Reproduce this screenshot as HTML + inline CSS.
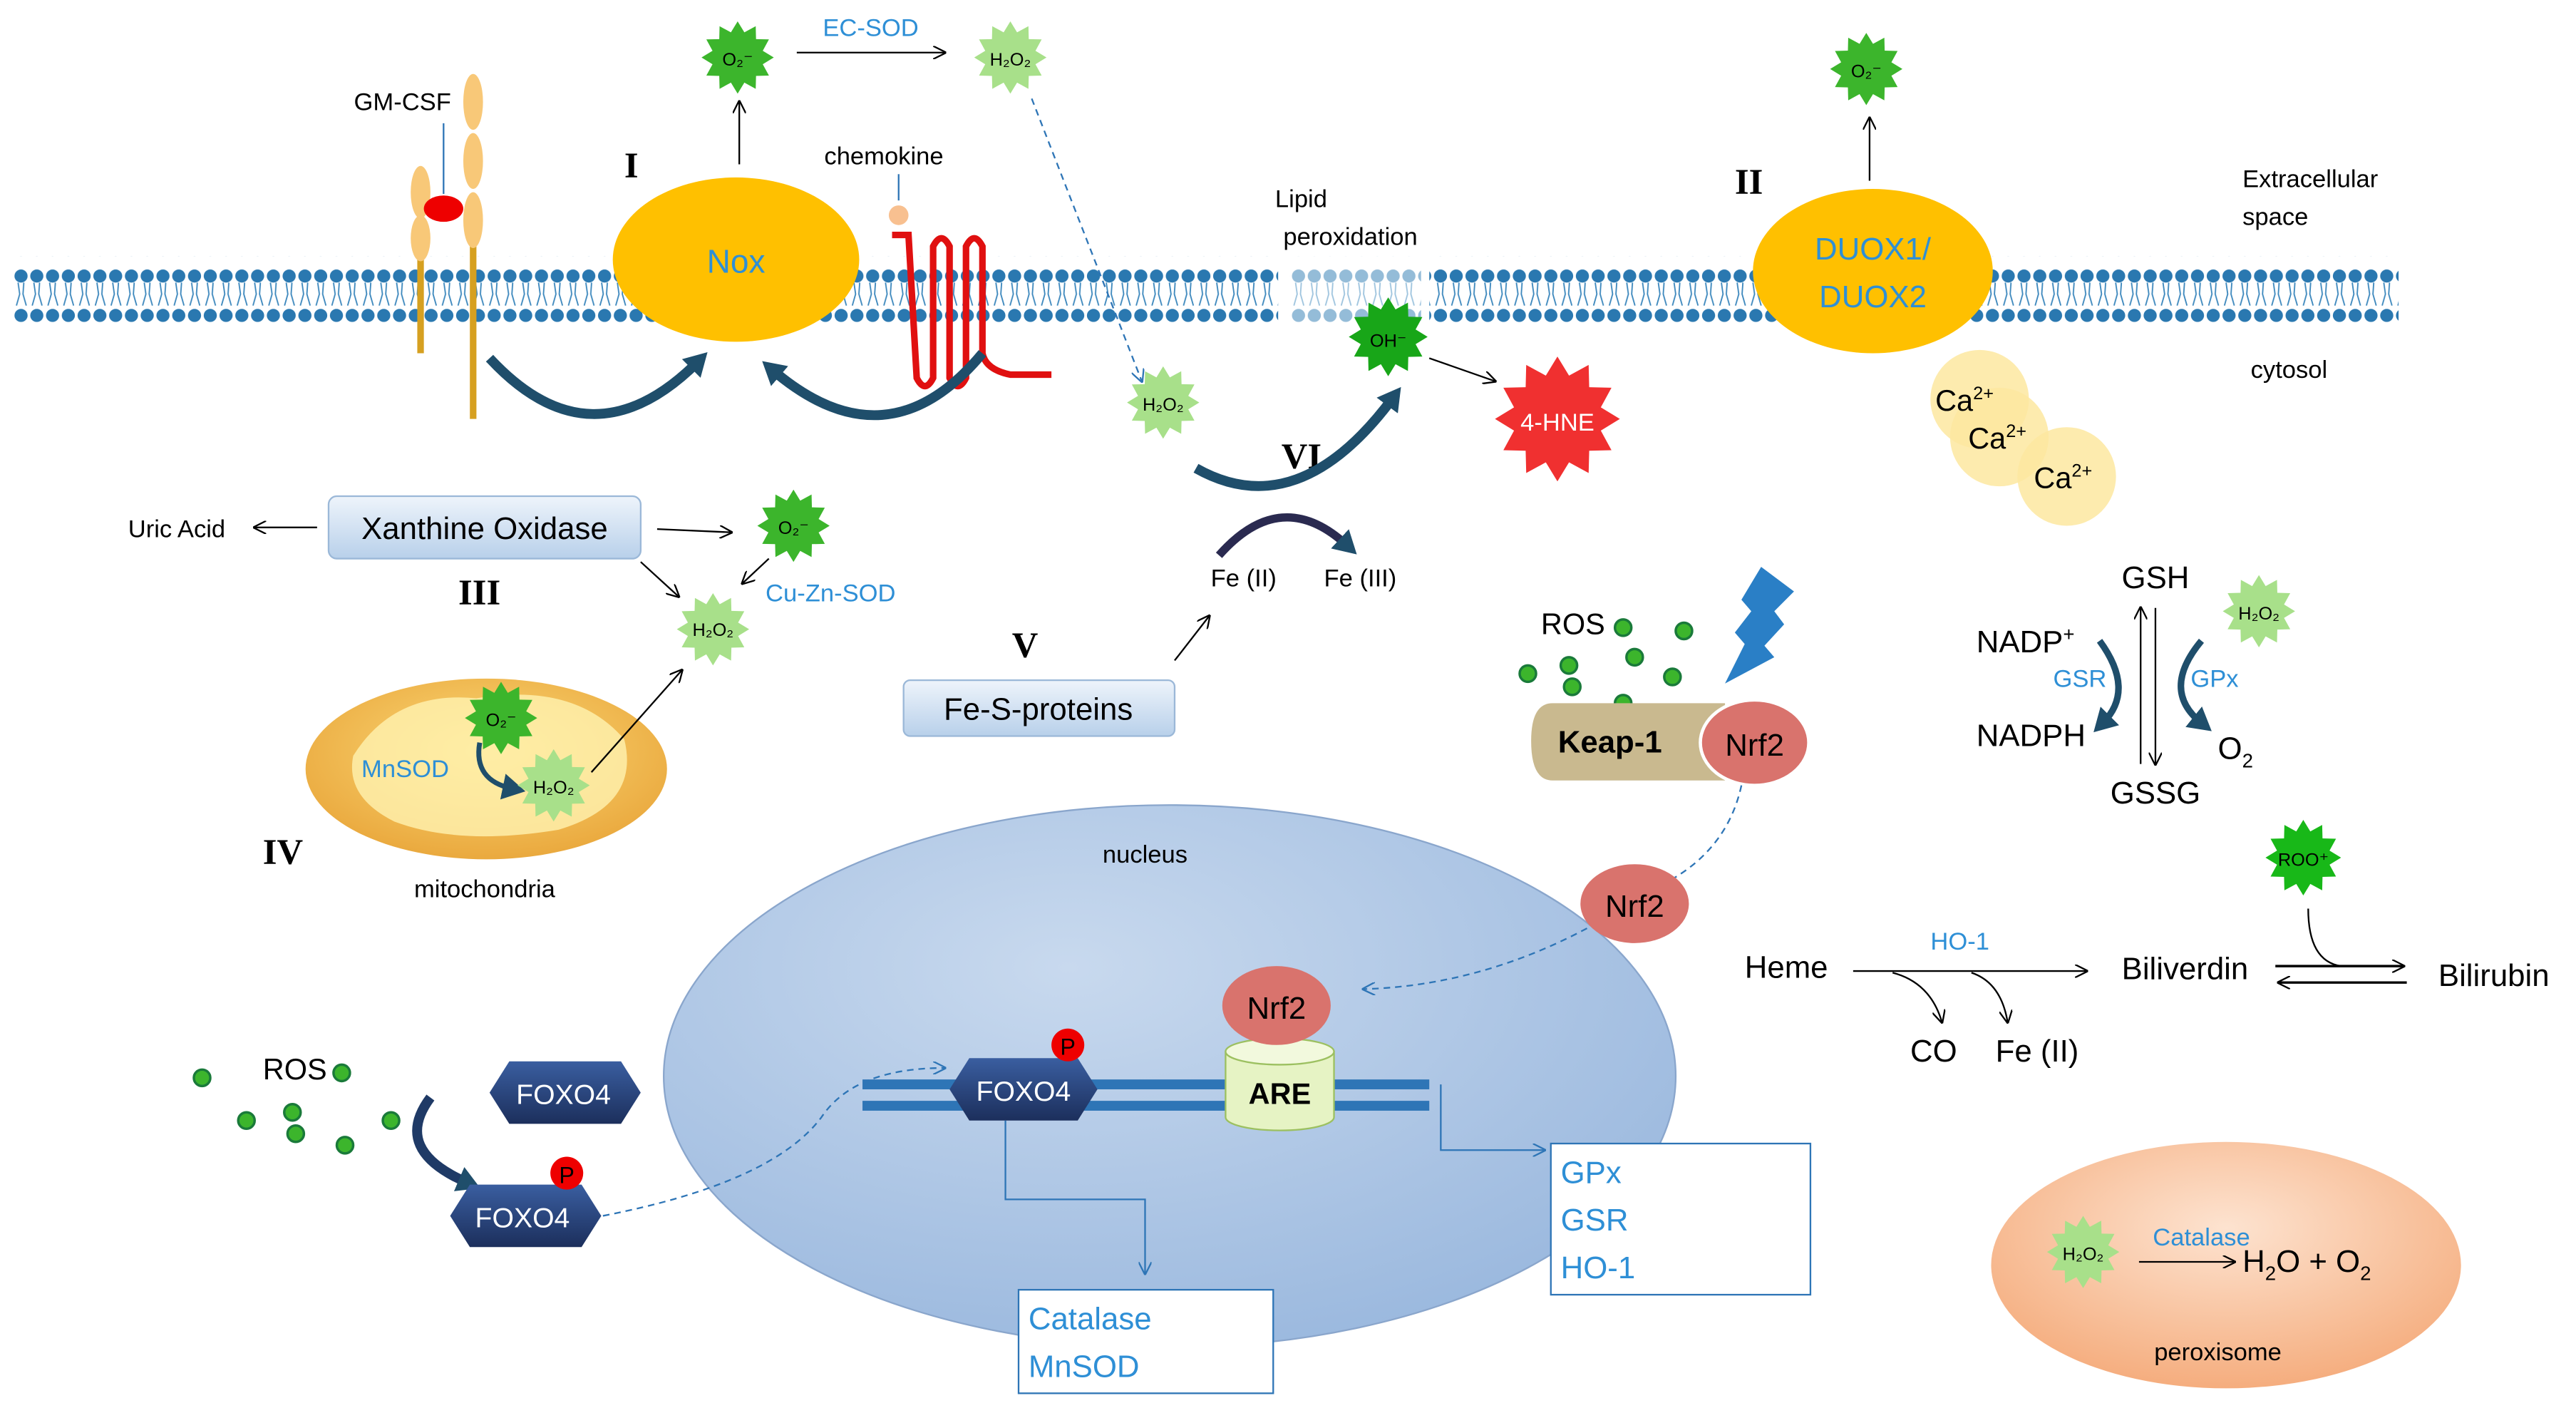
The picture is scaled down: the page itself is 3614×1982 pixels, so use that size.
<!DOCTYPE html>
<html><head><meta charset="utf-8"><style>
html,body{margin:0;padding:0;background:#fff;}
svg{display:block;}
text{font-family:"Liberation Sans",sans-serif;}
.s{font-family:"Liberation Serif",serif;font-weight:bold;font-size:22px;}
.b{fill:#2e8fd6;}
</style></head><body>
<svg width="3614" height="1982" viewBox="0 0 1568 860" preserveAspectRatio="none" xmlns="http://www.w3.org/2000/svg">
<defs>
<symbol id="st" viewBox="-1 -1 2 2"><polygon points="1,0 .695,.186 .866,.5 .509,.509 .5,.866 .186,.695 0,1 -.186,.695 -.5,.866 -.509,.509 -.866,.5 -.695,.186 -1,0 -.695,-.186 -.866,-.5 -.509,-.509 -.5,-.866 -.186,-.695 0,-1 .186,-.695 .5,-.866 .509,-.509 .866,-.5 .695,-.186"/></symbol>
<pattern id="mem" x="8" y="0" width="9.6" height="40" patternUnits="userSpaceOnUse">
<circle cx="4.8" cy="8" r="4" fill="#2a78b0"/><circle cx="4.8" cy="32" r="4" fill="#2a78b0"/>
<path d="M3 12 L4 19 L2 26 M6.5 12 L6 19 L8 26" stroke="#3d88bd" stroke-width="0.8" fill="none"/>
</pattern>
<marker id="a" markerWidth="8" markerHeight="8" refX="7" refY="4" orient="auto" markerUnits="userSpaceOnUse"><path d="M0,0 L8,4 L0,8" fill="none" stroke="#000" stroke-width="1"/></marker>
<marker id="ab" markerWidth="8" markerHeight="8" refX="7" refY="4" orient="auto" markerUnits="userSpaceOnUse"><path d="M0,0 L8,4 L0,8" fill="none" stroke="#2e75b6" stroke-width="1"/></marker>
<marker id="at" markerWidth="16" markerHeight="16" refX="6" refY="8" orient="auto" markerUnits="userSpaceOnUse"><path d="M0,0 L14,8 L0,16 z" fill="#1f4e6b"/></marker>
<radialGradient id="nuc" cx="40%" cy="30%" r="75%"><stop offset="0" stop-color="#c8d9ee"/><stop offset="1" stop-color="#9ab8de"/></radialGradient>
<radialGradient id="mito" cx="50%" cy="40%" r="60%"><stop offset="0" stop-color="#fbd877"/><stop offset="1" stop-color="#eaa93e"/></radialGradient>
<radialGradient id="per" cx="50%" cy="35%" r="65%"><stop offset="0" stop-color="#fde3d0"/><stop offset="1" stop-color="#f5ad7e"/></radialGradient>
<linearGradient id="box" x1="0" y1="0" x2="0" y2="1"><stop offset="0" stop-color="#eef4fb"/><stop offset="1" stop-color="#b8d0ea"/></linearGradient>
<linearGradient id="hex" x1="0" y1="0" x2="0" y2="1"><stop offset="0" stop-color="#3a5ea0"/><stop offset="1" stop-color="#1c2f5c"/></linearGradient>
</defs>

<!-- membrane -->
<rect x="8" y="156" width="770" height="40" fill="url(#mem)"/>
<rect x="870" y="156" width="590" height="40" fill="url(#mem)"/>
<rect x="785" y="156" width="80" height="40" fill="url(#mem)" opacity="0.5"/>

<!-- nucleus -->
<ellipse cx="712" cy="655" rx="308" ry="165" fill="url(#nuc)" stroke="#8aa6cc"/>
<text x="697" y="525" font-size="15" text-anchor="middle">nucleus</text>

<!-- GM-CSF receptor -->
<line x1="288" y1="140" x2="288" y2="255" stroke="#d6a020" stroke-width="4"/>
<line x1="256" y1="140" x2="256" y2="215" stroke="#d6a020" stroke-width="4"/>
<ellipse cx="288" cy="62" rx="6" ry="17" fill="#f8c878"/><ellipse cx="288" cy="98" rx="6" ry="17" fill="#f8c878"/><ellipse cx="288" cy="134" rx="6" ry="17" fill="#f8c878"/>
<ellipse cx="256" cy="117" rx="6" ry="16" fill="#f8c878"/><ellipse cx="256" cy="145" rx="6" ry="14" fill="#f8c878"/>
<line x1="270" y1="75" x2="270" y2="118" stroke="#2e75b6"/>
<ellipse cx="270" cy="127" rx="12" ry="8" fill="#e00"/>
<text x="245" y="67" font-size="15" text-anchor="middle">GM-CSF</text>
<text x="380" y="108" class="s">I</text>
<!-- Nox -->
<ellipse cx="448" cy="158" rx="75" ry="50" fill="#ffc000"/>
<text x="448" y="166" font-size="20" class="b" text-anchor="middle">Nox</text>
<line x1="450" y1="100" x2="450" y2="62" stroke="#000" marker-end="url(#a)"/>
<use href="#st" x="427" y="13" width="44" height="44" fill="#3cb52c"/>
<text x="449" y="40" font-size="11" text-anchor="middle">O₂⁻</text>
<line x1="485" y1="32" x2="575" y2="32" stroke="#000" marker-end="url(#a)"/>
<text x="530" y="22" font-size="15" class="b" text-anchor="middle">EC-SOD</text>
<use href="#st" x="593" y="13" width="44" height="44" fill="#a8e08a"/>
<text x="615" y="40" font-size="11" text-anchor="middle">H₂O₂</text>
<!-- chemokine -->
<text x="538" y="100" font-size="15" text-anchor="middle">chemokine</text>
<line x1="547" y1="106" x2="547" y2="122" stroke="#2e75b6"/>
<circle cx="547" cy="131" r="6" fill="#f8c090"/>
<path d="M543 143 L553 143 L558 230 Q563 240 568 230 L568 150 Q573 140 578 150 L578 230 Q583 240 588 230 L588 150 Q593 140 598 150 L598 215 Q600 225 615 228 L640 228" fill="none" stroke="#e01010" stroke-width="4"/>
<path d="M298 218 Q360 285 425 220" fill="none" stroke="#1f4e6b" stroke-width="6" marker-end="url(#at)"/>
<path d="M598 215 Q540 285 470 225" fill="none" stroke="#1f4e6b" stroke-width="6" marker-end="url(#at)"/>
<path d="M628 60 L695 232" stroke="#2e75b6" stroke-dasharray="4,3" fill="none" marker-end="url(#ab)"/>
<use href="#st" x="686" y="223" width="44" height="44" fill="#a8e08a"/>
<text x="708" y="250" font-size="11" text-anchor="middle">H₂O₂</text>
<!-- lipid peroxidation -->
<text x="792" y="126" font-size="15" text-anchor="middle">Lipid</text>
<text x="822" y="149" font-size="15" text-anchor="middle">peroxidation</text>
<use href="#st" x="821" y="181" width="48" height="48" fill="#18a618"/>
<text x="845" y="211" font-size="11" text-anchor="middle">OH⁻</text>
<line x1="870" y1="218" x2="910" y2="232" stroke="#000" marker-end="url(#a)"/>
<use href="#st" x="910" y="217" width="76" height="76" fill="#f03030"/>
<text x="948" y="262" font-size="15" fill="#fff" text-anchor="middle">4-HNE</text>
<text x="780" y="285" class="s">VI</text>
<path d="M728 285 Q790 320 848 242" fill="none" stroke="#1f4e6b" stroke-width="6" marker-end="url(#at)"/>
<path d="M742 338 Q780 295 820 332" fill="none" stroke="#2a2a50" stroke-width="5" marker-end="url(#at)"/>
<text x="757" y="357" font-size="15" text-anchor="middle">Fe (II)</text>
<text x="828" y="357" font-size="15" text-anchor="middle">Fe (III)</text>
<text x="616" y="400" class="s">V</text>
<line x1="715" y1="402" x2="736" y2="375" stroke="#000" marker-end="url(#a)"/>
<rect x="550" y="414" width="165" height="34" rx="4" fill="url(#box)" stroke="#9bb8d8"/>
<text x="632" y="438" font-size="19" text-anchor="middle">Fe-S-proteins</text>

<!-- DUOX -->
<text x="1056" y="118" class="s">II</text>
<line x1="1138" y1="110" x2="1138" y2="72" stroke="#000" marker-end="url(#a)"/>
<use href="#st" x="1114" y="20" width="44" height="44" fill="#3cb52c"/>
<text x="1136" y="47" font-size="11" text-anchor="middle">O₂⁻</text>
<ellipse cx="1140" cy="165" rx="73" ry="50" fill="#ffc000"/>
<text x="1140" y="158" font-size="19" class="b" text-anchor="middle">DUOX1/</text>
<text x="1140" y="187" font-size="19" class="b" text-anchor="middle">DUOX2</text>
<circle cx="1205" cy="243" r="30" fill="#fde7a0" opacity="0.85"/>
<circle cx="1217" cy="266" r="30" fill="#fde7a0" opacity="0.85"/>
<circle cx="1258" cy="290" r="30" fill="#fde7a0" opacity="0.85"/>
<text x="1178" y="250" font-size="18">Ca<tspan font-size="11" dy="-7">2+</tspan></text>
<text x="1198" y="273" font-size="18">Ca<tspan font-size="11" dy="-7">2+</tspan></text>
<text x="1238" y="297" font-size="18">Ca<tspan font-size="11" dy="-7">2+</tspan></text>
<text x="1365" y="114" font-size="15">Extracellular</text>
<text x="1365" y="137" font-size="15">space</text>
<text x="1370" y="230" font-size="15">cytosol</text>

<!-- Xanthine -->
<rect x="200" y="302" width="190" height="38" rx="5" fill="url(#box)" stroke="#9bb8d8"/>
<text x="295" y="328" font-size="19" text-anchor="middle">Xanthine Oxidase</text>
<text x="78" y="327" font-size="15">Uric Acid</text>
<line x1="193" y1="321" x2="155" y2="321" stroke="#000" marker-end="url(#a)"/>
<line x1="400" y1="322" x2="445" y2="324" stroke="#000" marker-end="url(#a)"/>
<use href="#st" x="461" y="298" width="44" height="44" fill="#3cb52c"/>
<text x="483" y="325" font-size="11" text-anchor="middle">O₂⁻</text>
<text x="466" y="366" font-size="15" class="b">Cu-Zn-SOD</text>
<line x1="468" y1="340" x2="452" y2="355" stroke="#000" marker-end="url(#a)"/>
<line x1="390" y1="342" x2="413" y2="363" stroke="#000" marker-end="url(#a)"/>
<use href="#st" x="412" y="361" width="44" height="44" fill="#a8e08a"/>
<text x="434" y="387" font-size="11" text-anchor="middle">H₂O₂</text>
<text x="279" y="368" class="s">III</text>
<!-- mitochondria -->
<ellipse cx="296" cy="468" rx="110" ry="55" fill="url(#mito)"/>
<path d="M215 460 Q240 420 290 425 Q350 415 380 450 Q390 490 340 505 Q280 515 240 500 Q210 485 215 460z" fill="#fff3b0" opacity="0.8"/>
<text x="220" y="473" font-size="15" class="b">MnSOD</text>
<use href="#st" x="283" y="415" width="44" height="44" fill="#3cb52c"/>
<text x="305" y="442" font-size="11" text-anchor="middle">O₂⁻</text>
<path d="M292 452 Q288 475 312 480" fill="none" stroke="#1f4e6b" stroke-width="3" marker-end="url(#at)"/>
<use href="#st" x="315" y="456" width="44" height="44" fill="#a8e08a"/>
<text x="337" y="483" font-size="11" text-anchor="middle">H₂O₂</text>
<line x1="360" y1="470" x2="415" y2="408" stroke="#000" marker-end="url(#a)"/>
<text x="160" y="526" class="s">IV</text>
<text x="295" y="546" font-size="15" text-anchor="middle">mitochondria</text>

<!-- DNA -->
<rect x="525" y="657" width="345" height="6" fill="#2e75b6"/>
<rect x="525" y="670" width="345" height="6" fill="#2e75b6"/>
<polygon points="578,663 590,644 656,644 668,663 656,682 590,682" fill="url(#hex)"/>
<text x="623" y="670" font-size="17" fill="#fff" text-anchor="middle">FOXO4</text>
<circle cx="650" cy="636" r="10" fill="#e00"/><text x="650" y="642" font-size="14" text-anchor="middle">P</text>
<path d="M746 640 L746 680 A33 8 0 0 0 812 680 L812 640z" fill="#e6f3c4" stroke="#9cc060"/>
<ellipse cx="779" cy="640" rx="33" ry="8" fill="#f2f9dd" stroke="#9cc060"/>
<text x="779" y="672" font-size="18" font-weight="bold" text-anchor="middle">ARE</text>
<ellipse cx="777" cy="612" rx="33" ry="24" fill="#d9736d"/>
<text x="777" y="620" font-size="19" text-anchor="middle">Nrf2</text>
<path d="M612 682 L612 730 L697 730 L697 775" fill="none" stroke="#2e75b6" marker-end="url(#ab)"/>
<path d="M877 660 L877 700 L940 700" fill="none" stroke="#2e75b6" marker-end="url(#ab)"/>
<rect x="620" y="785" width="155" height="63" fill="#fff" stroke="#2e75b6"/>
<text x="626" y="809" font-size="19" class="b">Catalase</text>
<text x="626" y="838" font-size="19" class="b">MnSOD</text>
<rect x="944" y="696" width="158" height="92" fill="#fff" stroke="#2e75b6"/>
<text x="950" y="720" font-size="19" class="b">GPx</text>
<text x="950" y="749" font-size="19" class="b">GSR</text>
<text x="950" y="778" font-size="19" class="b">HO-1</text>

<!-- left FOXO -->
<text x="160" y="657" font-size="18">ROS</text>
<g fill="#3cb52c" stroke="#1a7a3a" stroke-width="1.5">
<circle cx="123" cy="656" r="5"/><circle cx="208" cy="653" r="5"/><circle cx="150" cy="682" r="5"/><circle cx="178" cy="677" r="5"/><circle cx="180" cy="690" r="5"/><circle cx="238" cy="682" r="5"/><circle cx="210" cy="697" r="5"/>
<circle cx="988" cy="382" r="5"/><circle cx="1025" cy="384" r="5"/><circle cx="930" cy="410" r="5"/><circle cx="955" cy="405" r="5"/><circle cx="995" cy="400" r="5"/><circle cx="1018" cy="412" r="5"/><circle cx="957" cy="418" r="5"/><circle cx="988" cy="428" r="5"/>
</g>
<polygon points="298,665 310,646 378,646 390,665 378,684 310,684" fill="url(#hex)"/>
<text x="343" y="672" font-size="17" fill="#fff" text-anchor="middle">FOXO4</text>
<path d="M262 668 Q238 700 285 720" fill="none" stroke="#1f3a66" stroke-width="6" marker-end="url(#at)"/>
<polygon points="274,740 286,721 354,721 366,740 354,759 286,759" fill="url(#hex)"/>
<text x="318" y="747" font-size="17" fill="#fff" text-anchor="middle">FOXO4</text>
<circle cx="345" cy="714" r="10" fill="#e00"/><text x="345" y="720" font-size="14" text-anchor="middle">P</text>
<path d="M367 740 Q470 720 500 680 Q520 650 575 650" fill="none" stroke="#2e75b6" stroke-dasharray="4,3" marker-end="url(#ab)"/>

<!-- Keap-1 -->
<text x="938" y="386" font-size="18">ROS</text>
<polygon points="1072,345 1092,360 1080,372 1086,380 1074,393 1080,400 1050,416 1062,392 1056,385 1066,372 1060,365" fill="#2a7fc6"/>
<path d="M945 428 L1050 428 L1050 475 L945 475 Q932 475 932 451 Q932 428 945 428z" fill="#c9b98f"/>
<text x="980" y="458" font-size="19" font-weight="bold" text-anchor="middle">Keap-1</text>
<ellipse cx="1068" cy="452" rx="33" ry="26" fill="#d9736d" stroke="#fff" stroke-width="2"/>
<text x="1068" y="460" font-size="19" text-anchor="middle">Nrf2</text>
<path d="M1060 478 Q1052 515 1018 535" fill="none" stroke="#2e75b6" stroke-dasharray="4,3"/>
<ellipse cx="995" cy="550" rx="33" ry="24" fill="#d9736d"/>
<text x="995" y="558" font-size="19" text-anchor="middle">Nrf2</text>
<path d="M966 565 Q900 600 830 602" fill="none" stroke="#2e75b6" stroke-dasharray="4,3" marker-end="url(#ab)"/>

<!-- glutathione -->
<text x="1312" y="358" font-size="19" text-anchor="middle">GSH</text>
<text x="1312" y="489" font-size="19" text-anchor="middle">GSSG</text>
<line x1="1303" y1="465" x2="1303" y2="370" stroke="#000" marker-end="url(#a)"/>
<line x1="1312" y1="370" x2="1312" y2="465" stroke="#000" marker-end="url(#a)"/>
<text x="1203" y="397" font-size="19">NADP<tspan font-size="12" dy="-7">+</tspan></text>
<text x="1203" y="454" font-size="19">NADPH</text>
<text x="1266" y="418" font-size="15" class="b" text-anchor="middle">GSR</text>
<text x="1348" y="418" font-size="15" class="b" text-anchor="middle">GPx</text>
<text x="1350" y="462" font-size="19">O<tspan font-size="12" dy="5">2</tspan></text>
<path d="M1278 390 Q1300 420 1280 440" fill="none" stroke="#1f4e6b" stroke-width="4" marker-end="url(#at)"/>
<path d="M1340 390 Q1315 420 1340 440" fill="none" stroke="#1f4e6b" stroke-width="4" marker-end="url(#at)"/>
<use href="#st" x="1353" y="350" width="44" height="44" fill="#a8e08a"/>
<text x="1375" y="377" font-size="11" text-anchor="middle">H₂O₂</text>

<!-- heme -->
<use href="#st" x="1379" y="499" width="46" height="46" fill="#18b818"/>
<text x="1402" y="527" font-size="11" text-anchor="middle">ROO⁺</text>
<text x="1062" y="595" font-size="19">Heme</text>
<line x1="1128" y1="591" x2="1270" y2="591" stroke="#000" marker-end="url(#a)"/>
<text x="1193" y="578" font-size="15" class="b" text-anchor="middle">HO-1</text>
<path d="M1152 592 Q1175 598 1182 622" fill="none" stroke="#000" marker-end="url(#a)"/>
<path d="M1200 592 Q1218 598 1222 622" fill="none" stroke="#000" marker-end="url(#a)"/>
<text x="1177" y="646" font-size="19" text-anchor="middle">CO</text>
<text x="1240" y="646" font-size="19" text-anchor="middle">Fe (II)</text>
<text x="1330" y="596" font-size="19" text-anchor="middle">Biliverdin</text>
<text x="1518" y="600" font-size="19" text-anchor="middle">Bilirubin</text>
<line x1="1385" y1="588" x2="1463" y2="588" stroke="#000" stroke-width="1.5" marker-end="url(#a)"/>
<line x1="1465" y1="598" x2="1387" y2="598" stroke="#000" stroke-width="1.5" marker-end="url(#a)"/>
<path d="M1405 553 Q1405 585 1425 588" fill="none" stroke="#000"/>

<!-- peroxisome -->
<ellipse cx="1355" cy="770" rx="143" ry="75" fill="url(#per)"/>
<use href="#st" x="1246" y="740" width="44" height="44" fill="#a8e08a"/>
<text x="1268" y="767" font-size="11" text-anchor="middle">H₂O₂</text>
<text x="1340" y="758" font-size="15" class="b" text-anchor="middle">Catalase</text>
<line x1="1302" y1="768" x2="1360" y2="768" stroke="#000" marker-end="url(#a)"/>
<text x="1365" y="774" font-size="19">H<tspan font-size="12" dy="5">2</tspan><tspan dy="-5">O + O</tspan><tspan font-size="12" dy="5">2</tspan></text>
<text x="1350" y="828" font-size="15" text-anchor="middle">peroxisome</text>
</svg>
</body></html>
